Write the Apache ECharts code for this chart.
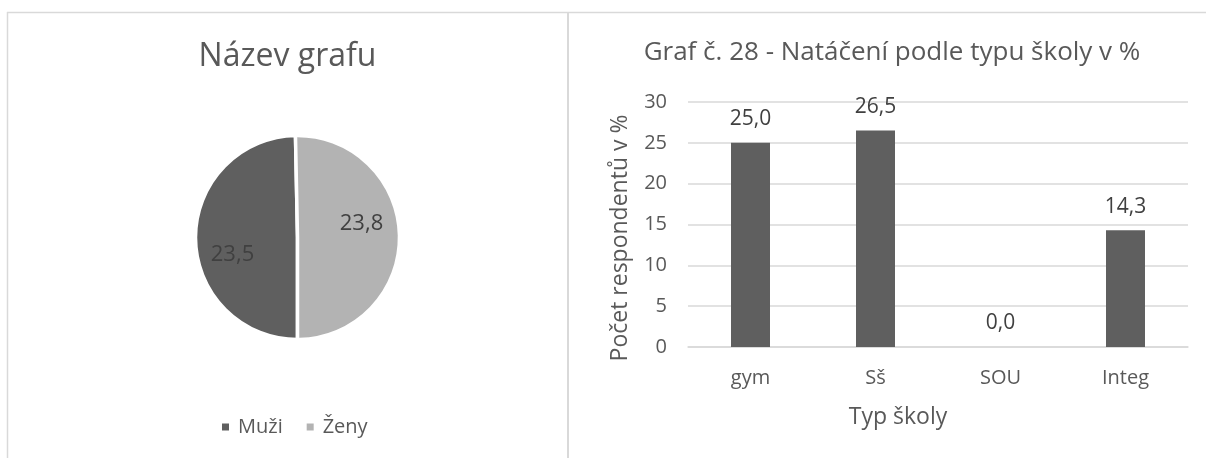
<!DOCTYPE html>
<html>
<head>
<meta charset="utf-8">
<script src="https://cdn.jsdelivr.net/npm/echarts@6/dist/echarts.min.js"></script>
<style>
  html, body { margin: 0; padding: 0; background: #ffffff; }
  #chart { width: 1206px; height: 458px; }
</style>
</head>
<body>
<div id="chart"></div>
<script>
// ---- data ----
const pieTitle = 'Název grafu';
const pieNames = ['Muži', 'Ženy'];
const pieValues = [23.5, 23.8];

const barTitle = 'Graf č. 28 - Natáčení podle typu školy v %';
const categories = ['gym', 'Sš', 'SOU', 'Integ'];
const barValues = [25.0, 26.5, 0.0, 14.3];
const yAxisTitle = 'Počet respondentů v %';
const xAxisTitle = 'Typ školy';
const yMin = 0, yMax = 30, yStep = 5;

// ---- styles ----
const FONT = 'Open Sans';
const TEXT = '#595959';
const LABEL = '#404040';
const DARK = '#5f5f5f';
const LIGHT = '#b3b3b3';
const GRID = '#d9d9d9';

const fmt = v => Number(v).toFixed(1).replace('.', ',');

const chart = echarts.init(document.getElementById('chart'), null, { renderer: 'canvas' });

const pieLabelShift = [[-11, 17], [10, -13]];

chart.setOption({
  backgroundColor: '#ffffff',
  animation: false,
  textStyle: { fontFamily: FONT },
  graphic: [
    { type: 'line', silent: true, shape: { x1: 7, y1: 12.5, x2: 1206, y2: 12.5 }, style: { stroke: GRID, lineWidth: 1.5 } },
    { type: 'line', silent: true, shape: { x1: 7.5, y1: 12, x2: 7.5, y2: 458 }, style: { stroke: GRID, lineWidth: 1.5 } },
    { type: 'line', silent: true, shape: { x1: 568, y1: 12, x2: 568, y2: 458 }, style: { stroke: GRID, lineWidth: 2 } }
  ],
  title: [
    {
      text: pieTitle, left: 287.5, top: 40.5, textAlign: 'center', padding: 0,
      textStyle: { fontFamily: FONT, fontSize: 32, fontWeight: 'normal', color: TEXT }
    },
    {
      text: barTitle, left: 892, top: 39.5, textAlign: 'center', padding: 0,
      textStyle: { fontFamily: FONT, fontSize: 26, fontWeight: 'normal', color: TEXT }
    }
  ],
  legend: {
    data: pieNames,
    left: 220, top: 417, padding: 0,
    orient: 'horizontal',
    icon: 'rect', itemWidth: 9, itemHeight: 9, itemGap: 22,
    textStyle: { fontFamily: FONT, fontSize: 20, color: TEXT, padding: [0, 0, 0, 3] }
  },
  grid: { left: 688, right: 18, top: 102, bottom: 111, containLabel: false },
  xAxis: {
    type: 'category',
    data: categories,
    axisLine: { show: true, lineStyle: { color: GRID, width: 1.5 } },
    axisTick: { show: false },
    axisLabel: { fontFamily: FONT, fontSize: 20, color: TEXT, margin: 21 },
    name: xAxisTitle,
    nameLocation: 'middle',
    nameGap: 59,
    nameTextStyle: { fontFamily: FONT, fontSize: 23, color: TEXT, padding: [0, 80, 0, 0] }
  },
  yAxis: {
    type: 'value',
    min: yMin, max: yMax, interval: yStep,
    axisLine: { show: false },
    axisTick: { show: false },
    splitLine: { lineStyle: { color: GRID, width: 1.5 } },
    axisLabel: { fontFamily: FONT, fontSize: 20, color: TEXT, margin: 21 },
    name: yAxisTitle,
    nameLocation: 'middle',
    nameRotate: 90,
    nameGap: 56,
    nameTextStyle: { fontFamily: FONT, fontSize: 23, color: TEXT, padding: [0, 27, 0, 0] }
  },
  series: [
    {
      type: 'pie',
      name: pieTitle,
      center: [297.5, 237.5],
      radius: 102,
      startAngle: 270,
      clockwise: true,
      color: [DARK, LIGHT],
      data: pieNames.map((n, i) => ({ name: n, value: pieValues[i] })),
      itemStyle: { borderColor: '#ffffff', borderWidth: 3.5 },
      label: {
        show: true, position: 'inside',
        formatter: p => fmt(p.value),
        fontFamily: FONT, fontSize: 22, color: LABEL
      },
      labelLine: { show: false },
      labelLayout: p => ({ dx: pieLabelShift[p.dataIndex][0], dy: pieLabelShift[p.dataIndex][1] }),
      emphasis: { disabled: true }
    },
    {
      type: 'bar',
      name: barTitle,
      data: barValues,
      barWidth: 39,
      itemStyle: { color: DARK },
      label: {
        show: true, position: 'top', distance: 13,
        formatter: p => fmt(p.value),
        fontFamily: FONT, fontSize: 21, color: LABEL
      },
      emphasis: { disabled: true }
    }
  ]
});
</script>
</body>
</html>
